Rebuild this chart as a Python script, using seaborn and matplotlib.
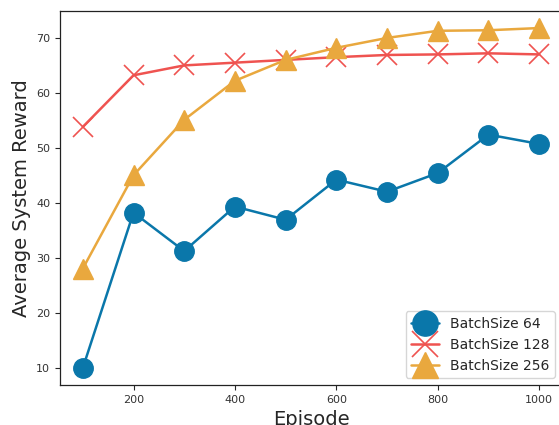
import matplotlib
matplotlib.use("Agg")
import matplotlib.pyplot as plt
import seaborn as sns
import pandas as pd

episodes = [100, 200, 300, 400, 500, 600, 700, 800, 900, 1000]
reward_bs64 = [9.9, 38.2, 31.2, 39.3, 36.9, 44.2, 42.0, 45.4, 52.4, 50.7]
reward_bs128 = [53.8, 63.2, 65.0, 65.5, 66.0, 66.5, 66.9, 67.0, 67.2, 67.0]
reward_bs256 = [28.0, 45.0, 55.1, 62.2, 66.0, 68.2, 70.0, 71.3, 71.4, 71.8]
series_labels = ["BatchSize 64", "BatchSize 128", "BatchSize 256"]

sns.set_style("ticks")

colors = ["#0a77aa", "#ef5350", "#e9a83e"]
markers = ["o", "x", "^"]

fig = plt.figure(figsize=(5.59, 4.25), dpi=100)
ax = fig.add_axes([0.1073, 0.094, 0.898, 0.880])

for vals, lab, col, mk in zip([reward_bs64, reward_bs128, reward_bs256],
                              series_labels, colors, markers):
    df = pd.DataFrame({"Episode": episodes, "Reward": vals})
    sns.lineplot(data=df, x="Episode", y="Reward", ax=ax, color=col,
                 marker=mk, markersize=14, markeredgewidth=1 if mk != "x" else 1.2,
                 markeredgecolor=col, linewidth=1.8, label=lab)

ax.set_xticks([200, 400, 600, 800, 1000])
ax.set_yticks([10, 20, 30, 40, 50, 60, 70])
ax.tick_params(labelsize=8, length=3.5, width=0.8, labelcolor="#333333")
ax.set_xlabel("Episode", fontsize=14)
ax.set_ylabel("Average System Reward", fontsize=14)
for s in ax.spines.values():
    s.set_linewidth(0.9)
    s.set_color("#222222")

ax.legend(loc="lower right", fontsize=10, markerscale=1.3)

fig.savefig("out.png", dpi=100)
